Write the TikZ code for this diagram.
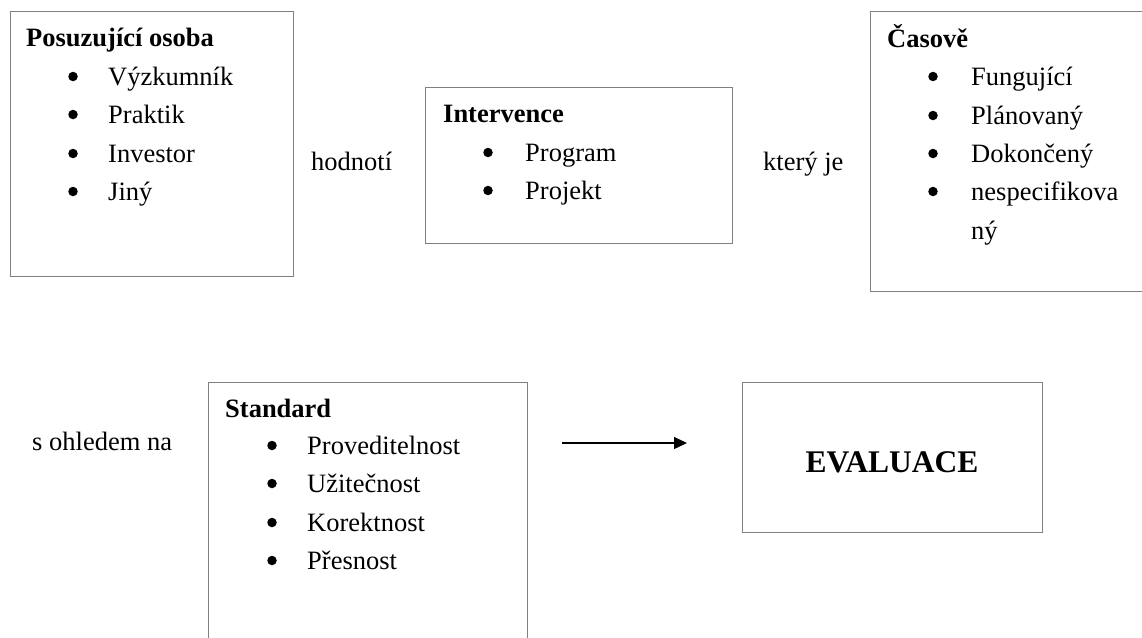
\documentclass[tikz,border=0pt]{standalone}
\usepackage{fontspec}
\setmainfont{Liberation Serif}
\usetikzlibrary{arrows.meta}
\definecolor{boxgray}{RGB}{128,128,128}
\tikzset{
  frame/.style={draw=boxgray, line width=1.3pt, rectangle, inner sep=0pt, anchor=north west},
  txt/.style={anchor=base west, inner sep=0pt, font=\fontsize{26.5}{32}\selectfont},
  ttl/.style={anchor=base west, inner sep=0pt, font=\fontsize{26.5}{32}\selectfont\bfseries},
  bul/.style={circle, fill=black, inner sep=0pt, minimum size=9.5pt, yshift=8.5pt},
  conn/.style={draw=black, line width=1.3pt, -{Triangle[length=13pt,width=12pt]}}
}
\begin{document}
\begin{tikzpicture}[x=1pt,y=-1pt]
\clip (0,0) rectangle (1142,637);
\useasboundingbox (0,0) rectangle (1142,637);
\fill[white] (0,0) rectangle (1142,637);
% boxes
\node[frame, minimum width=283pt, minimum height=265pt] (b1) at (10,11) {};
\node[frame, minimum width=307pt, minimum height=156pt] (b2) at (425,87) {};
\node[frame, minimum width=300pt, minimum height=280pt] (b3) at (870,11) {};
\node[frame, minimum width=319pt, minimum height=280pt] (b4) at (208,382) {};
\node[frame, minimum width=300pt, minimum height=150pt] (b5) at (742,382) {};
% box 1
\node[ttl] (t1) at (26,46) {Posuzující osoba};
\node[bul] (d11) at (73,85) {}; \node[txt] (i11) at (108,85) {Výzkumník};
\node[bul] (d12) at (73,123) {}; \node[txt] (i12) at (108,123) {Praktik};
\node[bul] (d13) at (73,162) {}; \node[txt] (i13) at (108,162) {Investor};
\node[bul] (d14) at (73,200) {}; \node[txt] (i14) at (108,200) {Jiný};
% box 2
\node[ttl] (t2) at (443,122) {Intervence};
\node[bul] (d21) at (488,161) {}; \node[txt] (i21) at (525,161) {Program};
\node[bul] (d22) at (488,199) {}; \node[txt] (i22) at (525,199) {Projekt};
% box 3
\node[ttl] (t3) at (887,47) {Časově};
\node[bul] (d31) at (933,85) {}; \node[txt] (i31) at (971,85) {Fungující};
\node[bul] (d32) at (933,124) {}; \node[txt] (i32) at (971,124) {Plánovaný};
\node[bul] (d33) at (933,162) {}; \node[txt] (i33) at (971,162) {Dokončený};
\node[bul] (d34) at (933,200) {}; \node[txt] (i34) at (971,200) {nespecifikova};
\node[txt] (i35) at (971,239) {ný};
% box 4
\node[ttl] (t4) at (225,417) {Standard};
\node[bul] (d41) at (272,454) {}; \node[txt] (i41) at (307,454) {Proveditelnost};
\node[bul] (d42) at (272,492) {}; \node[txt] (i42) at (307,492) {Užitečnost};
\node[bul] (d43) at (272,531) {}; \node[txt] (i43) at (307,531) {Korektnost};
\node[bul] (d44) at (272,569) {}; \node[txt] (i44) at (307,569) {Přesnost};
% box 5
\node[anchor=base, inner sep=0pt, font=\fontsize{31.5}{36}\selectfont\bfseries] (t5) at (892,472) {EVALUACE};
% connecting words
\node[txt] (w1) at (311,170) {hodnotí};
\node[txt] (w2) at (763,170) {který je};
\node[txt] (w3) at (32,450) {s ohledem na};
% arrow
\coordinate (aS) at (562,443);
\coordinate (aE) at (687,443);
\draw[conn] (aS) -- (aE);
\end{tikzpicture}
\end{document}
